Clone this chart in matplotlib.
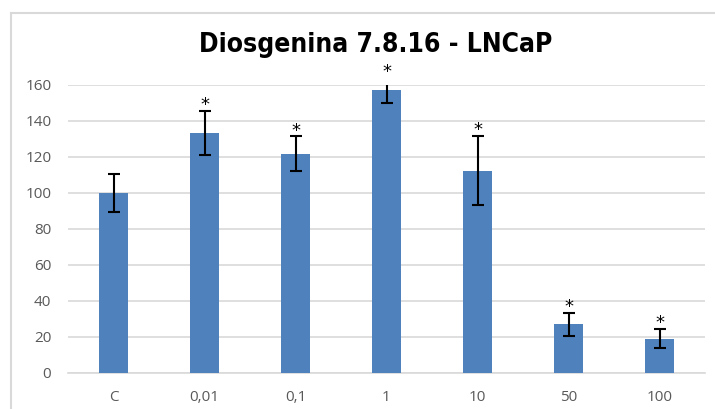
import matplotlib
matplotlib.use("Agg")
import matplotlib.pyplot as plt
from matplotlib.lines import Line2D

categories = ["C", "0,01", "0,1", "1", "10", "50", "100"]
values = [100, 133.5, 121.8, 157.2, 112.4, 27.0, 19.1]
errors = [10.8, 12.2, 9.6, 7.0, 19.2, 6.6, 5.4]
significant = [False, True, True, True, True, True, True]
yticks = [0, 20, 40, 60, 80, 100, 120, 140, 160]

W, H = 715, 409
fig = plt.figure(figsize=(W / 100, H / 100), dpi=100)
fig.patch.set_facecolor("white")

# chart area border (left and top visible)
fig.add_artist(Line2D([11 / W, 11 / W], [0, 1 - 13 / H], transform=fig.transFigure,
                      color="#d9d9d9", lw=1.5))
fig.add_artist(Line2D([11 / W, 1], [1 - 13 / H, 1 - 13 / H], transform=fig.transFigure,
                      color="#d9d9d9", lw=1.5))

left, right = 68 / W, 705 / W
bottom, top = (H - 373) / H, (H - 85) / H
ax = fig.add_axes([left, bottom, right - left, top - bottom])

x = list(range(len(categories)))
ax.bar(x, values, width=0.315, color="#4f81bd", zorder=3)
ax.errorbar(x, values, yerr=errors, fmt="none", ecolor="black", elinewidth=1.5,
            capsize=4.5, capthick=1.5, zorder=4)
for xi, v, e, s in zip(x, values, errors, significant):
    if s:
        ax.annotate("*", xy=(xi, v + e), xytext=(0, 0.6), textcoords="offset points",
                    ha="center", va="baseline", fontsize=13, color="black",
                    annotation_clip=False, zorder=5)

ax.set_xlim(-0.5, len(categories) - 0.5)
ax.set_ylim(0, 160)
ax.set_yticks(yticks)
ax.set_xticks(x)
ax.set_xticklabels(categories)
ax.yaxis.grid(True, color="#d9d9d9", lw=1.2, zorder=0)
ax.set_axisbelow(True)
for sp in ["top", "right", "left"]:
    ax.spines[sp].set_visible(False)
ax.spines["bottom"].set_color("#d9d9d9")
ax.spines["bottom"].set_linewidth(1.2)
ax.tick_params(axis="both", length=0, labelsize=11, labelcolor="#595959")
ax.tick_params(axis="y", pad=12)
ax.tick_params(axis="x", pad=12)
for lab in ax.get_xticklabels() + ax.get_yticklabels():
    lab.set_fontfamily("Open Sans")

fig.text(376 / W, 1 - 45 / H, "Diosgenina 7.8.16 - LNCaP", ha="center", va="center",
         fontsize=19, fontweight="bold", fontstretch="condensed", color="black",
         family="DejaVu Sans")

fig.savefig("out.png", dpi=100, facecolor="white")
